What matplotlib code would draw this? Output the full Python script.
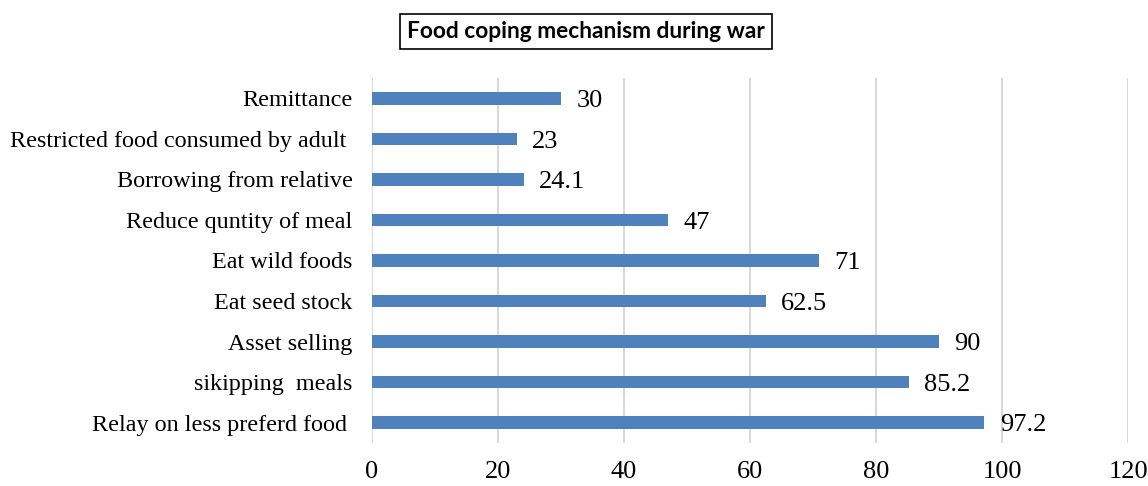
import matplotlib
matplotlib.use("Agg")
from matplotlib import pyplot as plt
import numpy as np

# donnees (du bas vers le haut)
categories = ["Relay on less preferd food ", "sikipping  meals", "Asset selling",
              "Eat seed stock", "Eat wild foods", "Reduce quntity of meal",
              "Borrowing from relative", "Restricted food consumed by adult ",
              "Remittance"]
values = [97.2, 85.2, 90, 62.5, 71, 47, 24.1, 23, 30]
value_labels = ["97.2", "85.2", "90", "62.5", "71", "47", "24.1", "23", "30"]
xticks = [0, 20, 40, 60, 80, 100, 120]

plt.rcParams['font.family'] = ['Liberation Serif', 'DejaVu Serif']

fig = plt.figure(figsize=(11.48, 4.86), dpi=100)
ax = fig.add_axes([0.324, 0.0885, 0.6586, 0.751])

y = np.arange(len(categories))
ax.barh(y, values, height=0.31, color="#4F81BD", zorder=3)

for yi, v, lab in zip(y, values, value_labels):
    ax.annotate(lab, xy=(v, yi), xytext=(11, -2), textcoords="offset points",
                va="center", ha="left", fontsize=19)

ax.set_xlim(0, 120)
ax.set_ylim(-0.5, len(categories) - 0.5)
ax.set_xticks(xticks)
ax.set_xticklabels([str(t) for t in xticks], fontsize=19)
ax.set_yticks(y)
ax.set_yticklabels(categories, fontsize=17.4)
ax.tick_params(axis="both", length=0)
ax.tick_params(axis="x", pad=13)
ax.tick_params(axis="y", pad=14)
ax.grid(axis="x", color="#D9D9D9", lw=1.5, zorder=0)
for s in ax.spines.values():
    s.set_visible(False)

fig.text(0.5105, 0.935, "Food coping mechanism during war", ha="center", va="center",
         fontsize=16.4, fontweight="bold", family=["Lato", "DejaVu Sans"],
         bbox=dict(boxstyle="square,pad=0.3", fc="white", ec="black", lw=1.2))

fig.savefig("out.png", dpi=100)
